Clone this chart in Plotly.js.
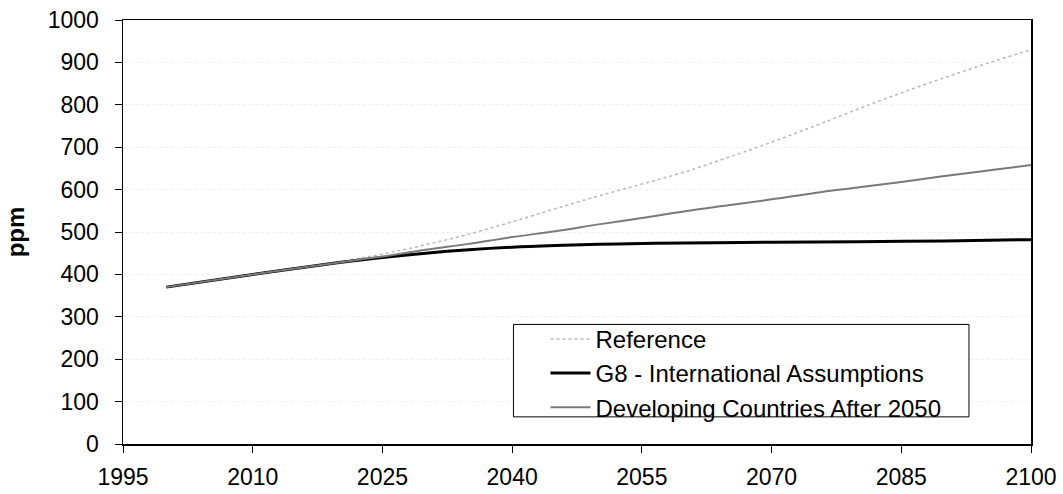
<!DOCTYPE html>
<html>
<head>
<meta charset="utf-8">
<script src="https://cdn.plot.ly/plotly-3.0.1.min.js"></script>
<style>html,body{margin:0;padding:0;background:#fff;}#chart{width:1063px;height:494px;}</style>
</head>
<body>
<div id="chart"></div>
<script>
const refYears = [2000, 2010, 2020, 2025, 2030, 2035, 2040, 2045, 2050, 2055, 2060, 2065, 2070, 2075, 2080, 2085, 2090, 2095, 2100];
const referenceVals = [370, 400, 430, 448, 470, 495, 524, 555, 585, 613, 642, 676, 712, 750, 790, 828, 864, 898, 930];

const devYears = [2000, 2010, 2020, 2025, 2030, 2035, 2040, 2045, 2050, 2055, 2060, 2065, 2070, 2075, 2080, 2085, 2090, 2095, 2100];
const developingVals = [370, 400, 428, 442, 458, 472, 488, 502, 518, 533, 549, 563, 577, 592, 605, 618, 632, 645, 658];

const g8Years = [2000, 2010, 2020, 2025, 2030, 2035, 2040, 2045, 2050, 2055, 2060, 2070, 2080, 2090, 2100];
const g8Vals = [370, 400, 428, 440, 450, 458, 464, 468, 471, 473, 474, 476, 477, 479, 482];

const seriesNames = ["Reference", "G8 - International Assumptions", "Developing Countries After 2050"];
const xTicks = [1995, 2010, 2025, 2040, 2055, 2070, 2085, 2100];
const yTicks = [0, 100, 200, 300, 400, 500, 600, 700, 800, 900, 1000];

const traces = [
  {x: refYears, y: referenceVals, name: seriesNames[0], mode: "lines",
   line: {color: "#b8b8b8", width: 1.5, dash: "dot", shape: "spline"}},
  {x: g8Years, y: g8Vals, name: seriesNames[1], mode: "lines",
   line: {color: "#000000", width: 3, shape: "spline"}},
  {x: devYears, y: developingVals, name: seriesNames[2], mode: "lines",
   line: {color: "#7a7a7a", width: 2, shape: "spline"}}
];

const fam = "Liberation Sans, Arial, sans-serif";
const font = {family: fam, size: 23, color: "#000"};

const layout = {
  width: 1063, height: 494,
  margin: {l: 123, r: 32, t: 20, b: 50},
  paper_bgcolor: "#fff", plot_bgcolor: "#fff",
  font: font,
  showlegend: true,
  legend: {
    x: 0.4653, y: 0.300, xanchor: "left", yanchor: "top",
    bgcolor: "rgba(0,0,0,0)", borderwidth: 0,
    font: {family: fam, size: 24, color: "#000"},
    tracegroupgap: 0, itemwidth: 40
  },
  shapes: [
    {type: "rect", xref: "paper", yref: "paper", x0: 0.43, x1: 0.9317, y0: 0.064, y1: 0.282,
     line: {color: "#000", width: 1}, fillcolor: "#fff", layer: "above"}
  ],
  xaxis: {
    range: [1995, 2100], tickmode: "array", tickvals: xTicks, ticktext: xTicks.map(String),
    showgrid: false, zeroline: false,
    showline: true, linecolor: "#000", linewidth: 1.5, mirror: true,
    ticks: "outside", ticklen: 7, tickcolor: "#000", ticklabelstandoff: 5,
    tickfont: {family: fam, size: 23, color: "#000"}
  },
  yaxis: {
    range: [0, 1000], tickmode: "array", tickvals: yTicks, ticktext: yTicks.map(String),
    showgrid: true, gridcolor: "#efefef", griddash: "dot", gridwidth: 1,
    zeroline: false,
    showline: true, linecolor: "#000", linewidth: 1.5, mirror: true,
    ticks: "outside", ticklen: 7, tickcolor: "#000", ticklabelstandoff: 11,
    tickfont: {family: fam, size: 23, color: "#000"},
    title: {text: "<b>ppm</b>", font: {family: fam, size: 24, color: "#000"}, standoff: 16}
  }
};

Plotly.newPlot("chart", traces, layout, {displayModeBar: false, staticPlot: true});
</script>
</body>
</html>
